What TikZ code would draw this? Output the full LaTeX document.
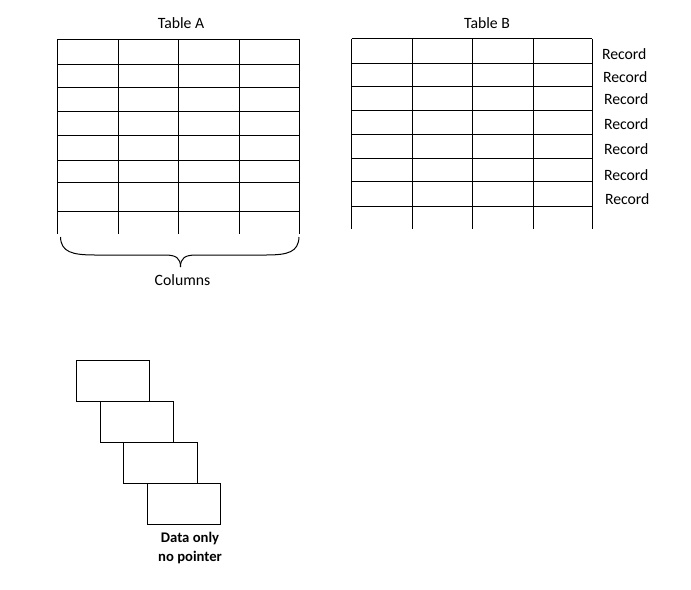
\documentclass[tikz,border=0pt]{standalone}
\usepackage{fontspec}
\setmainfont{Carlito}
\begin{document}
\begin{tikzpicture}[x=0.75pt,y=-0.75pt,line width=0.75pt,
  lbl/.style={font=\fontsize{11.8}{14}\selectfont, inner sep=0pt},
  databox/.style={draw, minimum width=55pt, minimum height=30.75pt, inner sep=0pt}]
\useasboundingbox (0,0) rectangle (691,589);

% Table A
\node[lbl, anchor=base] (titleA) at (181,28) {Table A};
\draw (57,39) -- (299,39);
\foreach \y in {64,87.3,111,135.3,160,182.7,211.3}
  \draw (57,\y) -- (299,\y);
\foreach \x in {57,118.3,178.3,239.3,299}
  \draw (\x,39) -- (\x,234.3);

% brace under Table A
\coordinate (bl) at (60.5,237);
\coordinate (br) at (299,237);
\coordinate (bt) at (180.5,267);
\draw (bl) .. controls (61,252) and (72,255) .. (95,255) -- (165,255)
  .. controls (176,255) and (180.5,258) .. (bt);
\draw (br) .. controls (298.5,252) and (288,255) .. (266,255) -- (196,255)
  .. controls (185,255) and (180.5,258) .. (bt);
\node[lbl, anchor=base] (cols) at (182.5,285) {Columns};

% Table B
\node[lbl, anchor=base] (titleB) at (487,28) {Table B};
\draw (351.7,38.7) -- (592.3,38.7);
\foreach \y in {63.3,86.7,110.7,134.7,158.7,181.7,206}
  \draw (351.7,\y) -- (592.3,\y);
\foreach \x in {351.7,412.3,472.7,533.3,592.3}
  \draw (\x,38.7) -- (\x,229.3);

% record labels
\node[lbl, anchor=base west] (rec1) at (601.5,59.3) {Record};
\node[lbl, anchor=base west] (rec2) at (602.5,82.7) {Record};
\node[lbl, anchor=base west] (rec3) at (603.5,104) {Record};
\node[lbl, anchor=base west] (rec4) at (603.5,129.3) {Record};
\node[lbl, anchor=base west] (rec5) at (603.5,154) {Record};
\node[lbl, anchor=base west] (rec6) at (603.5,180) {Record};
\node[lbl, anchor=base west] (rec7) at (604.5,204) {Record};

% stacked data boxes
\node[databox, anchor=north west] (d1) at (76,360) {};
\node[databox, anchor=north west] (d2) at (100,401) {};
\node[databox, anchor=north west] (d3) at (123.3,442) {};
\node[databox, anchor=north west] (d4) at (146.7,483) {};
\node[lbl, font=\fontsize{11}{13}\selectfont\bfseries, anchor=base] (dtxt1) at (190,542.5) {Data only};
\node[lbl, font=\fontsize{11}{13}\selectfont\bfseries, anchor=base] (dtxt2) at (190,561.5) {no pointer};
\end{tikzpicture}
\end{document}
